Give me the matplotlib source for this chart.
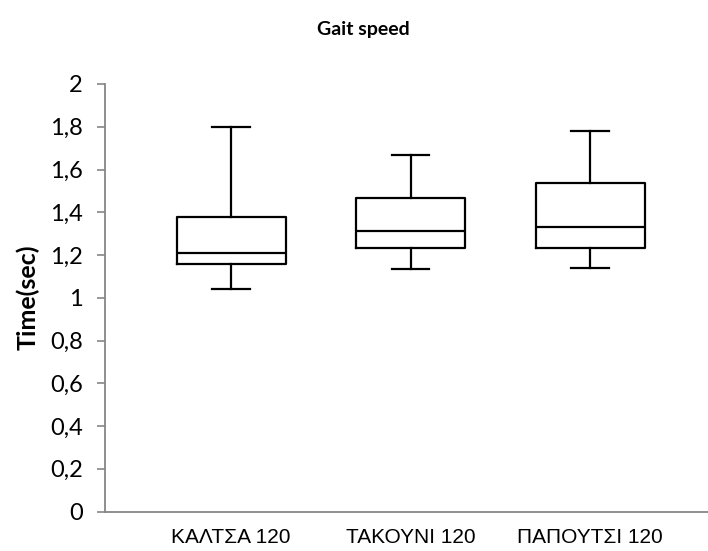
import matplotlib
matplotlib.use("Agg")
import matplotlib.pyplot as plt
from matplotlib.ticker import FuncFormatter

categories = ["ΚΑΛΤΣΑ 120", "ΤΑΚΟΥΝΙ 120", "ΠΑΠΟΥΤΣΙ 120"]
whisker_low = [1.04, 1.135, 1.14]
q1 = [1.16, 1.235, 1.235]
median = [1.21, 1.31, 1.33]
q3 = [1.38, 1.465, 1.535]
whisker_high = [1.80, 1.67, 1.78]
yticks = [0, 0.2, 0.4, 0.6, 0.8, 1.0, 1.2, 1.4, 1.6, 1.8, 2.0]

fig = plt.figure(figsize=(7.08, 5.51), dpi=100)
ax = fig.add_axes([105/708, 1 - 511.5/551, (708-105)/708, (511.5-84)/551])

stats = []
for i, c in enumerate(categories):
    stats.append(dict(label=c, whislo=whisker_low[i], q1=q1[i], med=median[i],
                      q3=q3[i], whishi=whisker_high[i], fliers=[]))

lw = 1.6
ax.bxp(stats, positions=[1, 2, 3], widths=0.607, capwidths=0.21, showfliers=False,
       boxprops=dict(color="black", linewidth=lw),
       medianprops=dict(color="black", linewidth=lw),
       whiskerprops=dict(color="black", linewidth=lw),
       capprops=dict(color="black", linewidth=lw))

ax.set_xlim(0.298, 3.657)
ax.set_ylim(0, 2)
ax.set_yticks(yticks)
ax.yaxis.set_major_formatter(FuncFormatter(lambda v, p: ("%g" % round(v, 1)).replace(".", ",")))
for lab in ax.get_yticklabels():
    lab.set_fontfamily("Lato")
    lab.set_fontsize(17)
ax.set_xticks([1, 2, 3])
ax.set_xticklabels(categories)
for lab in ax.get_xticklabels():
    lab.set_fontfamily(["Liberation Sans", "DejaVu Sans"])
    lab.set_fontsize(15)
ax.tick_params(axis="x", length=0, pad=12)
ax.tick_params(axis="y", length=6, width=1.2, color="#868686", pad=10)

for s in ["top", "right"]:
    ax.spines[s].set_visible(False)
for s in ["left", "bottom"]:
    ax.spines[s].set_color("#868686")
    ax.spines[s].set_linewidth(1.3)

fig.text(363/708, 1 - 30/551, "Gait speed", ha="center", va="center",
         fontfamily="Lato", fontweight="bold", fontsize=14)
fig.text(28/708, 1 - 297/551, "Time(sec)", ha="center", va="center", rotation=90,
         fontfamily="Lato", fontweight="bold", fontsize=18)

fig.savefig("out.png", dpi=100)
